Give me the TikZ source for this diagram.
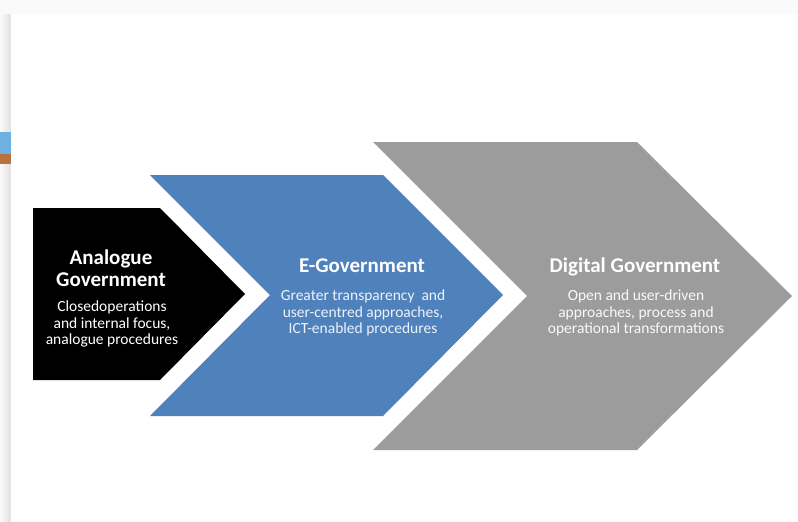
\documentclass[tikz,border=0pt]{standalone}
\usepackage{fontspec}
\setmainfont{Carlito}
\usetikzlibrary{positioning}
\definecolor{analogue}{HTML}{000000}
\definecolor{egov}{HTML}{4F81BD}
\definecolor{digov}{HTML}{9C9C9C}
\definecolor{barblue}{HTML}{6EB1E1}
\definecolor{barorange}{HTML}{B9713F}
\definecolor{edge}{HTML}{FAFAFA}

\begin{document}
\begin{tikzpicture}[x=1pt, y=-1pt,
  title/.style={text=white, align=center, inner sep=0pt, font=\bfseries\fontsize{21}{22.5}\selectfont},
  body/.style={align=center, inner sep=0pt, font=\fontsize{15.5}{16.8}\selectfont}]
\useasboundingbox (0,0) rectangle (798,522);
% page and its edge
\fill[edge] (0,0) rectangle (798,522);
\shade[left color=edge, right color=black!12] (0,14) rectangle (11,522);
\fill[white] (11,14) rectangle (798,522);
\fill[barblue] (0,132) rectangle (11,154);
\fill[barorange] (0,154) rectangle (11,164);
% the three stages
\fill[digov] (373,142)--(637,142)--(792,296)--(637,450)--(373,450)--(527,296)--cycle;
\fill[egov] (150,175)--(383,175)--(503,295)--(383,416)--(150,416)--(270,295)--cycle;
\fill[analogue] (33,208)--(160,208)--(245,294)--(160,380)--(33,380)--cycle;
% labels
\node[title] (ana) at (111,268) {Analogue\\Government};
\node[body, text=white] (anatxt) at (112,324) {Closedoperations\\and internal focus,\\analogue procedures};
\node[title] (egovt) at (362,266) {E-Government};
\node[body, text=white!90!egov] (egovtxt) at (363,313) {Greater transparency~ and\\user-centred approaches,\\ICT-enabled procedures};
\node[title] (digovt) at (635,267) {Digital Government};
\node[body, text=white!94!digov] (digovtxt) at (636,313) {Open and user-driven\\approaches, process and\\operational transformations};
\end{tikzpicture}
\end{document}
